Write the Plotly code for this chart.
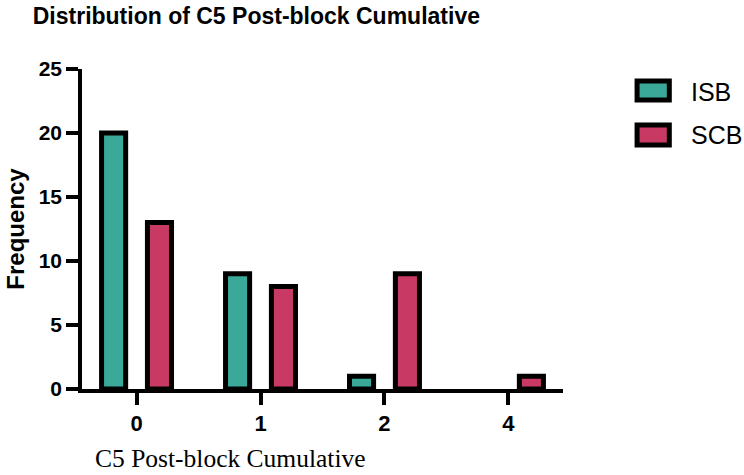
import plotly.graph_objects as go

categories = ["0", "1", "2", "4"]
isb = [20, 9, 1, 0]
scb = [13, 8, 9, 1]
series_names = ["ISB", "SCB"]
colors = ["#3AA999", "#C83A63"]
y_ticks = [0, 5, 10, 15, 20, 25]

fig = go.Figure()
for name, vals, col in zip(series_names, [isb, scb], colors):
    fig.add_trace(go.Bar(
        x=categories, y=vals, name=name,
        marker=dict(color=col,
                    line=dict(color="black", width=[5 if v > 0 else 0 for v in vals])),
        showlegend=False,
    ))

# manual legend (large boxes as in reference)
legend_y = [(0.9625, 0.903, 0.928), (0.825, 0.7625, 0.794)]
for (y1, y0, ty), name, col in zip(legend_y, series_names, colors):
    fig.add_shape(type="rect", xref="paper", yref="paper",
                  x0=1.154, x1=1.221, y0=y0, y1=y1,
                  fillcolor=col, line=dict(color="black", width=5))
    fig.add_annotation(xref="paper", yref="paper", x=1.262, y=ty,
                       text=name, showarrow=False, xanchor="left", yanchor="middle",
                       font=dict(family="Arial, Liberation Sans", size=25, color="black"))

# x axis title (left-shifted, as in reference)
fig.add_annotation(xref="paper", yref="paper", x=0.308, y=-0.216,
                   text="C5 Post-block Cumulative", showarrow=False,
                   xanchor="center", yanchor="middle",
                   font=dict(family="Times New Roman, Liberation Serif", size=25.5, color="black"))

fig.update_layout(
    width=744, height=475,
    margin=dict(l=82, r=181, t=69, b=86, autoexpand=False),
    paper_bgcolor="white", plot_bgcolor="white",
    barmode="group", bargap=0.26, bargroupgap=0.475,
    title=dict(text="<b>Distribution of C5 Post-block Cumulative</b>",
               x=0.044, xanchor="left", y=0.966, yanchor="middle",
               font=dict(family="Arial, Liberation Sans", size=23, color="black")),
    font=dict(family="Arial, Liberation Sans", color="black"),
)
fig.update_xaxes(
    type="category", range=[-0.44, 3.44], automargin=False,
    showline=True, linecolor="black", linewidth=3.5,
    ticks="outside", ticklen=12, tickwidth=3.5, tickcolor="black",
    tickfont=dict(family="Arial, Liberation Sans", size=22, color="black", weight="bold"),
    showgrid=False, zeroline=False,
)
fig.update_yaxes(
    range=[0, 25], tickvals=y_ticks, automargin=False,
    showline=True, linecolor="black", linewidth=3.5,
    ticks="outside", ticklen=12, tickwidth=3.5, tickcolor="black",
    tickfont=dict(family="Arial, Liberation Sans", size=21, color="black", weight="bold"),
    title=dict(text="<b>Frequency</b>", standoff=8,
               font=dict(family="Arial, Liberation Sans", size=24, color="black")),
    showgrid=False, zeroline=False,
)

fig.write_html("out.html", config={"displayModeBar": False})

# remove default page margin so the figure sits at the window's top-left corner
with open("out.html", encoding="utf-8") as f:
    html = f.read()
html = html.replace("<body>", '<body style="margin:0;padding:0;overflow:hidden">', 1)
with open("out.html", "w", encoding="utf-8") as f:
    f.write(html)
